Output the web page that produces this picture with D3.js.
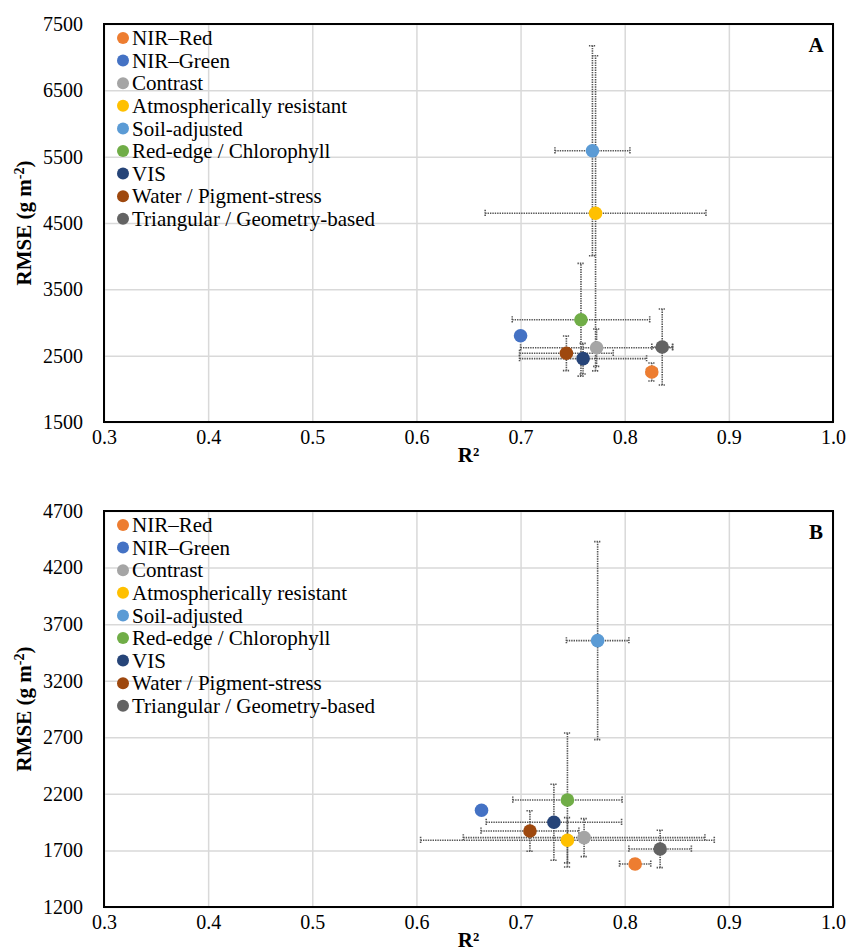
<!DOCTYPE html>
<html lang="en">
    <head>
        <meta charset="UTF-8" />
        <title>RMSE vs R2 by index group</title>
        <script src="https://d3js.org/d3.v7.min.js"></script>
        <style>
            body {
                margin: 0;
                background: #fff;
            }
            svg text {
                font-family: 'Liberation Serif', 'Times New Roman', serif;
                fill: #000;
            }
            .grid line {
                stroke: #d9d9d9;
                stroke-width: 1.5px;
            }
            .err {
                stroke: #555;
                stroke-width: 1.6px;
                stroke-dasharray: 1.4, 1;
                fill: none;
            }
        </style>
    </head>
    <body>
        <svg width="849" height="952"></svg>

        <script>
            // index groups (legend order)
            const groups = [
                'NIR–Red',
                'NIR–Green',
                'Contrast',
                'Atmospherically resistant',
                'Soil-adjusted',
                'Red-edge / Chlorophyll',
                'VIS',
                'Water / Pigment-stress',
                'Triangular / Geometry-based',
            ];
            const colors = ['#ED7D31', '#4472C4', '#A5A5A5', '#FFC000', '#5B9BD5', '#70AD47', '#264478', '#9E480E', '#636363'];

            // panel A
            const r2A = [0.826, 0.7, 0.773, 0.772, 0.769, 0.758, 0.76, 0.744, 0.836];
            const rmseA = [2254, 2800, 2620, 4646, 5590, 3042, 2455, 2536, 2631];
            const r2ErrA = [0.005, 0, 0.073, 0.106, 0.036, 0.066, 0.061, 0.045, 0.01];
            const rmseErrA = [135, 0, 282, 2376, 1583, 850, 231, 261, 573];
            const yTicksA = [1500, 2500, 3500, 4500, 5500, 6500, 7500];

            // panel B
            const r2B = [0.81, 0.6625, 0.761, 0.745, 0.774, 0.745, 0.732, 0.709, 0.834];
            const rmseB = [1580, 2055, 1813, 1790, 3554, 2146, 1949, 1872, 1713];
            const r2ErrB = [0.015, 0, 0.116, 0.141, 0.03, 0.0525, 0.065, 0.047, 0.03];
            const rmseErrB = [45, 0, 168, 200, 875, 592, 336, 179, 165];
            const yTicksB = [1200, 1700, 2200, 2700, 3200, 3700, 4200, 4700];

            const xTicks = [0.3, 0.4, 0.5, 0.6, 0.7, 0.8, 0.9, 1.0];

            const svg = d3.select('svg');
            const left = 104,
                right = 833;

            function drawPanel(label, top, bottom, r2, rmse, r2Err, rmseErr, yTicks) {
                const x = d3.scaleLinear().domain([0.3, 1.0]).range([left, right]);
                const y = d3
                    .scaleLinear()
                    .domain([yTicks[0], yTicks[yTicks.length - 1]])
                    .range([bottom, top]);
                const w = right - left,
                    h = bottom - top;
                const g = svg.append('g');

                // gridlines
                g.append('g')
                    .attr('class', 'grid')
                    .attr('transform', `translate(0,${bottom})`)
                    .call(d3.axisBottom(x).tickValues(xTicks).tickSize(-h).tickFormat(''))
                    .call((s) => s.select('.domain').remove());
                g.append('g')
                    .attr('class', 'grid')
                    .attr('transform', `translate(${left},0)`)
                    .call(d3.axisLeft(y).tickValues(yTicks).tickSize(-w).tickFormat(''))
                    .call((s) => s.select('.domain').remove());

                // tick labels
                g.append('g')
                    .attr('transform', `translate(0,${bottom})`)
                    .call(d3.axisBottom(x).tickValues(xTicks).tickSize(0).tickPadding(8).tickFormat(d3.format('.1f')))
                    .call((s) => s.select('.domain').remove())
                    .selectAll('text')
                    .style('font-size', '20px');
                g.append('g')
                    .attr('transform', `translate(${left},0)`)
                    .call(d3.axisLeft(y).tickValues(yTicks).tickSize(0).tickPadding(21).tickFormat(d3.format('d')))
                    .call((s) => s.select('.domain').remove())
                    .selectAll('text')
                    .style('font-size', '20px');

                // plot border
                g.append('rect')
                    .attr('x', left)
                    .attr('y', top)
                    .attr('width', w)
                    .attr('height', h)
                    .attr('fill', 'none')
                    .attr('stroke', '#000')
                    .attr('stroke-width', 2);

                // legend
                const leg = g
                    .selectAll('.leg')
                    .data(groups)
                    .enter()
                    .append('g')
                    .attr('transform', (d, i) => `translate(123,${top + 14 + i * 22.6})`);
                leg.append('circle')
                    .attr('r', 6)
                    .attr('fill', (d, i) => colors[i]);
                leg.append('text')
                    .attr('x', 9)
                    .attr('dy', '0.34em')
                    .style('font-size', '21px')
                    .text((d) => d);

                // error bars
                const cap = 3.5;
                const pts = groups.map((grp, i) => ({ i, r2: r2[i], rmse: rmse[i], ex: r2Err[i], ey: rmseErr[i] }));
                const eb = g.append('g');
                pts.filter((d) => d.ex > 0).forEach((d) => {
                    const cy = y(d.rmse),
                        x0 = x(d.r2 - d.ex),
                        x1 = x(d.r2 + d.ex);
                    eb.append('path')
                        .attr('class', 'err')
                        .attr('d', `M${x0},${cy}H${x1}M${x0},${cy - cap}V${cy + cap}M${x1},${cy - cap}V${cy + cap}`);
                });
                pts.filter((d) => d.ey > 0).forEach((d) => {
                    const cx = x(d.r2),
                        y0 = y(d.rmse - d.ey),
                        y1 = y(d.rmse + d.ey);
                    eb.append('path')
                        .attr('class', 'err')
                        .attr('d', `M${cx},${y0}V${y1}M${cx - cap},${y0}H${cx + cap}M${cx - cap},${y1}H${cx + cap}`);
                });

                // points
                g.selectAll('.dot')
                    .data(pts)
                    .enter()
                    .append('circle')
                    .attr('cx', (d) => x(d.r2))
                    .attr('cy', (d) => y(d.rmse))
                    .attr('r', 6.8)
                    .attr('fill', (d) => colors[d.i]);

                // panel letter
                g.append('text')
                    .attr('x', 816)
                    .attr('y', top + 28)
                    .attr('text-anchor', 'middle')
                    .style('font-size', '21px')
                    .style('font-weight', 'bold')
                    .text(label);

                // axis titles
                g.append('text')
                    .attr('x', (left + right) / 2)
                    .attr('y', bottom + 40)
                    .attr('text-anchor', 'middle')
                    .style('font-size', '21px')
                    .style('font-weight', 'bold')
                    .text('R²');

                const yt = g
                    .append('text')
                    .attr('transform', `translate(31,${(top + bottom) / 2}) rotate(-90)`)
                    .attr('text-anchor', 'middle')
                    .style('font-size', '21px')
                    .style('font-weight', 'bold');
                yt.append('tspan').text('RMSE (g m');
                yt.append('tspan').attr('dy', -7).style('font-size', '14px').text('-2');
                yt.append('tspan').attr('dy', 7).text(')');
            }

            drawPanel('A', 24, 422, r2A, rmseA, r2ErrA, rmseErrA, yTicksA);
            drawPanel('B', 511, 907, r2B, rmseB, r2ErrB, rmseErrB, yTicksB);
        </script>
    </body>
</html>
